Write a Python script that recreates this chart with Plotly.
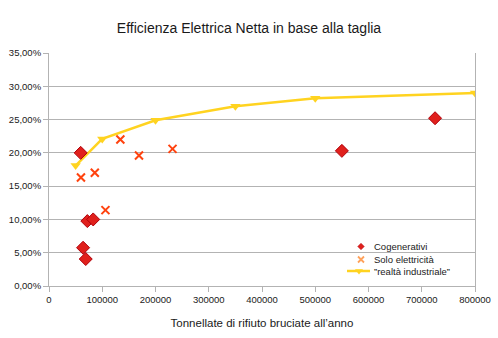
import plotly.graph_objects as go

# Data
cog_x = [59500, 64000, 69000, 72000, 83000, 550000, 725000]
cog_y = [0.200, 0.0575, 0.0405, 0.0975, 0.100, 0.203, 0.252]

solo_x = [60000, 86000, 106000, 134000, 169000, 232000]
solo_y = [0.163, 0.170, 0.114, 0.220, 0.196, 0.206]

real_x = [50000, 100000, 200000, 350000, 500000, 800000]
real_y = [0.181, 0.221, 0.249, 0.270, 0.282, 0.290]

x_ticks = [0, 100000, 200000, 300000, 400000, 500000, 600000, 700000, 800000]
y_ticks = [0, 0.05, 0.10, 0.15, 0.20, 0.25, 0.30, 0.35]

legend_names = ["Cogenerativi", "Solo elettricità", "\u201drealtà industriale\u201d"]

RED = "#e0201c"
ORANGE = "#ff420e"
YELLOW = "#ffd320"
TXT = "#1a1a1a"

fig = go.Figure()
fig.add_trace(go.Scatter(
    x=real_x, y=real_y, mode="lines+markers", name=legend_names[2],
    line=dict(color=YELLOW, width=2.5),
    marker=dict(symbol="triangle-down", size=9, color=YELLOW),
    showlegend=False,
))
fig.add_trace(go.Scatter(
    x=cog_x, y=cog_y, mode="markers", name=legend_names[0],
    marker=dict(symbol="diamond", size=10, color=RED,
                line=dict(color="#b0000a", width=1)),
    showlegend=False,
))
fig.add_trace(go.Scatter(
    x=solo_x, y=solo_y, mode="markers", name=legend_names[1],
    marker=dict(symbol="x-thin-open", size=8, color=ORANGE,
                line=dict(color=ORANGE, width=2)),
    showlegend=False,
))

# Custom compact legend on an overlay axis measured in pixels of the plot area
# plot area: 426 x 233 px
lg_rows = [246.5, 259.5, 271]          # pixel centres (page coords)
def py(v):
    return 286 - v
def px(v):
    return v - 49

fig.add_trace(go.Scatter(
    x=[px(361)], y=[py(lg_rows[0])], xaxis="x2", yaxis="y2", mode="markers",
    marker=dict(symbol="diamond", size=5, color=RED, line=dict(color="#b0000a", width=0.5)),
    showlegend=False, hoverinfo="skip"))
fig.add_trace(go.Scatter(
    x=[px(361)], y=[py(lg_rows[1])], xaxis="x2", yaxis="y2", mode="markers",
    marker=dict(symbol="x-thin-open", size=6, line=dict(color=ORANGE, width=1.8)),
    showlegend=False, hoverinfo="skip"))
fig.add_trace(go.Scatter(
    x=[px(347), px(370)], y=[py(lg_rows[2])] * 2, xaxis="x2", yaxis="y2", mode="lines",
    line=dict(color=YELLOW, width=2.5), showlegend=False, hoverinfo="skip"))
fig.add_trace(go.Scatter(
    x=[px(359)], y=[py(lg_rows[2])], xaxis="x2", yaxis="y2", mode="markers",
    marker=dict(symbol="triangle-down", size=7, color=YELLOW),
    showlegend=False, hoverinfo="skip"))

annotations = []
for name, row in zip(legend_names, lg_rows):
    annotations.append(dict(
        x=px(372), y=py(row), xref="x2", yref="y2", text=name, showarrow=False,
        xanchor="left", yanchor="middle", font=dict(size=9.5, color=TXT)))

fig.update_layout(
    width=498, height=338,
    margin=dict(l=49, r=23, t=53, b=52),
    paper_bgcolor="white", plot_bgcolor="white",
    separators=",.",
    font=dict(family="Liberation Sans, Arial, sans-serif", color=TXT, size=10),
    title=dict(text="Efficienza Elettrica Netta in base alla taglia",
               x=0.5, xanchor="center", y=1 - 28 / 338, yanchor="middle",
               font=dict(size=14, color=TXT)),
    showlegend=False,
    annotations=annotations,
    xaxis=dict(
        domain=[0, 1], anchor="y",
        range=[0, 800000], tickvals=x_ticks, tickformat="d",
        showgrid=False, zeroline=False, automargin=False,
        showline=True, linecolor="#b3b3b3", linewidth=1,
        ticks="outside", ticklen=5, tickcolor="#b3b3b3",
        tickfont=dict(size=9.5, color=TXT),
        title=dict(text="Tonnellate di rifiuto bruciate all\u2019anno",
                   font=dict(size=11.5, color=TXT), standoff=14),
    ),
    yaxis=dict(
        domain=[0, 1], anchor="x",
        range=[0, 0.35], tickvals=y_ticks, tickformat=".2%",
        showgrid=True, gridcolor="#b3b3b3", gridwidth=1, zeroline=False, automargin=False,
        showline=True, linecolor="#b3b3b3", linewidth=1, mirror=True,
        ticks="outside", ticklen=5, tickcolor="#b3b3b3",
        tickfont=dict(size=9.5, color=TXT),
    ),
    xaxis2=dict(overlaying="x", anchor="y2", domain=[0, 1], range=[0, 426],
                visible=False, fixedrange=True),
    yaxis2=dict(overlaying="y", anchor="x2", domain=[0, 1], range=[0, 233],
                visible=False, fixedrange=True),
)

fig.write_html("out.html")
